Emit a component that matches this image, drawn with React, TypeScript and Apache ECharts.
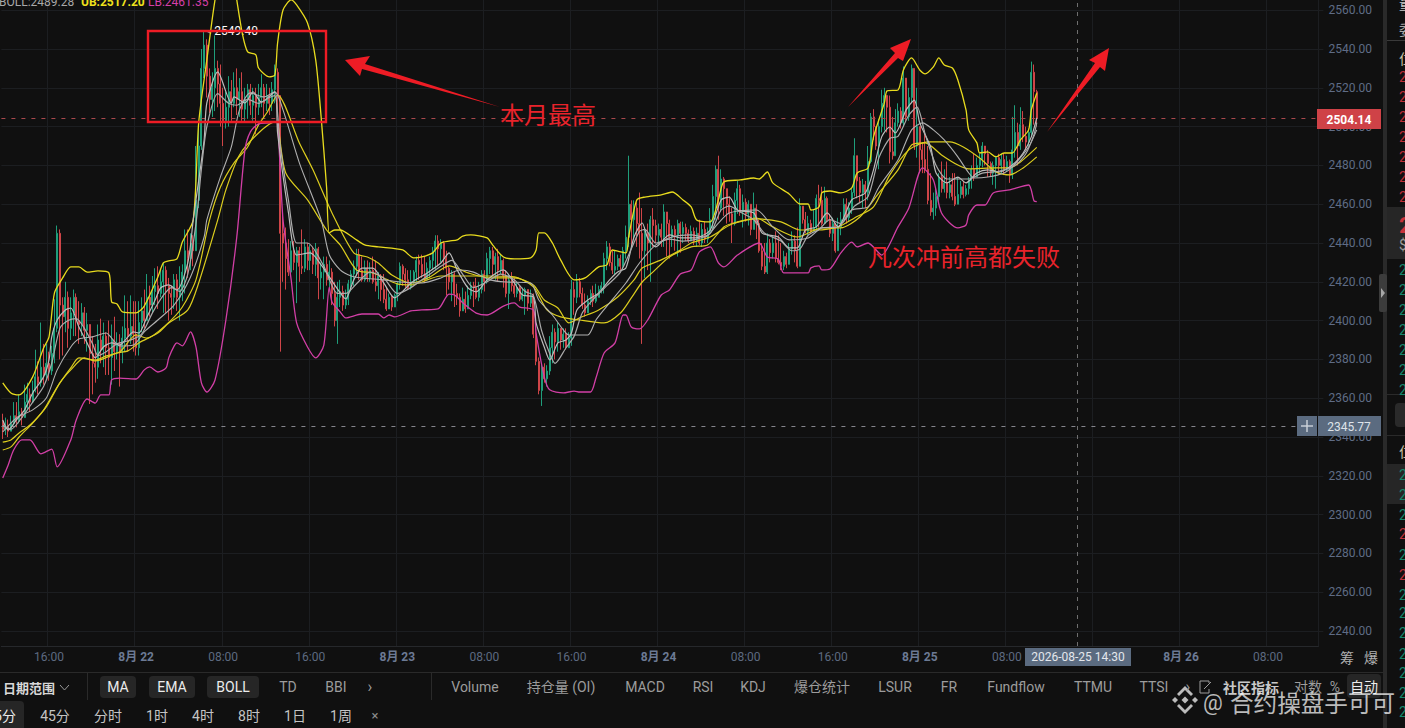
import React, { useEffect, useRef } from "react";
import * as echarts from "echarts";

// Each bar: close, high, low. A bar opens at the previous close.
const aug21Bars = [
  2344,2352,2339, 2346,2350,2341, 2343,2349,2340, 2347,2351,2343, 2351,2358,2346, 2348,2358,2345, 2353,2362,2347, 2350,2355,2346, 2358,2367,2351, 2362,2368,2354,
  2358,2365,2353, 2364,2369,2359, 2371,2385,2363, 2368,2379,2362, 2376,2399,2366, 2372,2388,2367, 2378,2388,2370, 2374,2384,2369, 2383,2387,2372, 2396,2411,2378,
  2445,2449,2394, 2408,2447,2380, 2402,2412,2382, 2412,2420,2394, 2396,2415,2386, 2404,2412,2390, 2412,2416,2392, 2400,2414,2392, 2398,2410,2388, 2404,2409,2392,
  2395,2407,2388, 2398,2404,2384, 2383,2396,2357, 2378,2392,2362, 2376,2388,2368, 2390,2398,2370, 2385,2401,2378, 2392,2399,2376, 2386,2394,2372, 2381,2400,2372,
  2390,2398,2367, 2384,2402,2374, 2388,2394,2380, 2384,2393,2366, 2391,2397,2378, 2396,2413,2384, 2392,2410,2384, 2397,2413,2388, 2393,2410,2384,
];
const aug22Bars = [
  2386,2410,2382, 2399,2410,2382, 2405,2412,2394, 2400,2416,2396, 2412,2424,2400, 2408,2418,2402, 2415,2423,2404, 2418,2427,2408, 2414,2428,2406, 2420,2426,2412,
  2426,2430,2404, 2418,2428,2404, 2414,2422,2400, 2412,2418,2403, 2421,2424,2406, 2412,2424,2405, 2416,2428,2400, 2425,2429,2410, 2436,2447,2414, 2432,2447,2422,
  2440,2445,2426, 2436,2444,2428, 2462,2490,2440, 2490,2502,2458, 2530,2540,2488, 2542,2549.4,2525, 2526,2545,2515, 2514,2530,2507, 2520,2528,2505, 2530,2547,2508,
  2522,2534,2510, 2512,2532,2500, 2503,2520,2490, 2510,2518,2499, 2518,2526,2500, 2512,2524,2503, 2520,2528,2510, 2514,2530,2506, 2518,2525,2505, 2509,2528,2503,
  2514,2520,2502, 2519,2522,2504, 2511,2522,2506, 2516,2520,2503, 2510,2520,2496, 2515,2522,2506, 2520,2527,2510, 2512,2522,2505, 2516,2522,2508, 2512,2520,2506,
  2519,2523,2508, 2528,2532,2512, 2516,2530,2505, 2445,2516,2384, 2440,2456,2420, 2432,2448,2416, 2425,2442,2423, 2436,2441,2424, 2430,2441,2426, 2436,2438,2409,
  2428,2438,2420, 2427,2447,2424, 2438,2442,2425, 2431,2440,2426, 2436,2439,2426, 2429,2438,2424, 2437,2440,2423, 2422,2438,2411, 2425,2430,2416, 2429,2433,2411,
  2421,2433,2418, 2425,2431,2415, 2414,2427,2408, 2400,2420,2397, 2412,2420,2388, 2415,2421,2407, 2408,2418,2405, 2411,2416,2406, 2419,2421,2408, 2424,2426,2415,
  2428,2431,2418, 2434,2437,2423, 2426,2437,2421, 2421,2433,2420, 2427,2431,2420, 2422,2431,2420, 2426,2430,2420, 2420,2433,2419, 2418,2431,2415, 2423,2425,2411,
  2416,2424,2410, 2411,2424,2409, 2406,2417,2405, 2412,2414,2406, 2407,2413,2405, 2413,2414,2408,
];
const aug23Bars = [
  2419,2420,2410, 2428,2430,2416, 2424,2429,2418, 2421,2427,2417, 2417,2426,2416, 2420,2426,2416, 2425,2426,2419, 2431,2433,2420, 2429,2434,2421, 2424,2434,2422,
  2421,2433,2420, 2427,2430,2421, 2431,2433,2422, 2436,2438,2426, 2441,2444,2426, 2437,2444,2428, 2440,2442,2430, 2432,2441,2426, 2427,2436,2413, 2420,2428,2416,
  2424,2426,2410, 2414,2425,2407, 2412,2419,2408, 2405,2414,2402, 2411,2417,2406, 2406,2415,2404, 2413,2418,2406, 2418,2420,2411, 2417,2420,2407, 2412,2422,2411,
  2416,2420,2410, 2424,2426,2414, 2420,2426,2415, 2432,2435,2419, 2436,2438,2424, 2429,2438,2423, 2433,2435,2421, 2426,2437,2420, 2431,2434,2424, 2423,2432,2417,
  2414,2426,2412, 2421,2424,2406, 2418,2425,2415, 2414,2422,2412, 2417,2420,2412, 2411,2418,2410, 2413,2417,2410, 2416,2417,2403, 2409,2416,2405, 2413,2416,2407,
  2393,2414,2391, 2379,2396,2377, 2364,2381,2362, 2376,2378,2356, 2370,2378,2368, 2374,2377,2366, 2386,2392,2372, 2394,2398,2378, 2389,2396,2380, 2396,2399,2384,
  2390,2396,2385, 2393,2396,2386, 2386,2396,2385, 2391,2394,2386, 2416,2421,2387, 2412,2420,2403, 2420,2424,2409, 2414,2422,2412, 2408,2417,2406, 2404,2414,2402,
  2410,2413,2404, 2414,2416,2408, 2410,2418,2407, 2412,2419,2409, 2416,2418,2412, 2418,2420,2414, 2432,2435,2414, 2438,2441,2426, 2430,2440,2428, 2426,2436,2424,
  2428,2436,2424, 2432,2434,2426, 2428,2434,2426, 2436,2438,2426, 2443,2449,2432, 2460,2485,2438, 2452,2462,2438, 2458,2462,2442, 2450,2461,2438, 2445,2466,2432,
  2436,2458,2388, 2445,2448,2422, 2440,2450,2426, 2452,2454,2420, 2449,2458,2438, 2444,2452,2440,
];
const aug24Bars = [
  2447,2450,2440, 2443,2450,2438, 2456,2460,2438, 2450,2456,2433, 2443,2452,2432, 2447,2449,2438, 2444,2449,2436, 2450,2452,2433, 2445,2451,2435, 2448,2451,2440,
  2445,2450,2441, 2441,2447,2440, 2446,2449,2441, 2441,2448,2439, 2445,2448,2438, 2440,2452,2439, 2447,2450,2438, 2442,2451,2440, 2446,2448,2440, 2452,2458,2445,
  2464,2470,2447, 2478,2480,2452, 2458,2485,2452, 2473,2478,2456, 2468,2474,2454, 2460,2465,2450, 2455,2464,2451, 2450,2458,2440, 2462,2466,2449, 2468,2472,2455,
  2456,2470,2454, 2461,2465,2448, 2455,2463,2451, 2460,2462,2449, 2447,2458,2444, 2458,2466,2450, 2450,2460,2442, 2436,2452,2435, 2428,2440,2426, 2425,2440,2424,
  2440,2445,2424, 2435,2442,2430, 2440,2444,2432, 2432,2446,2430, 2430,2444,2429, 2428,2440,2426, 2433,2436,2426, 2429,2435,2427, 2437,2440,2431, 2441,2446,2434,
  2436,2444,2430, 2428,2448,2427, 2459,2463,2440, 2452,2459,2450, 2446,2456,2445, 2450,2454,2444, 2446,2452,2445, 2448,2457,2446, 2463,2465,2447, 2462,2470,2448,
  2450,2469,2449, 2463,2469,2452, 2452,2464,2451, 2445,2455,2443, 2450,2453,2441, 2436,2450,2435, 2448,2453,2436, 2452,2456,2444, 2460,2463,2452, 2453,2463,2450,
  2458,2461,2451, 2466,2468,2455, 2485,2494,2464, 2472,2482,2463, 2466,2474,2461, 2470,2473,2458, 2466,2472,2458, 2482,2490,2462, 2505,2507,2481, 2500,2509,2493,
  2490,2500,2488, 2500,2504,2478, 2512,2519,2497, 2516,2520,2498, 2510,2516,2497, 2487,2516,2481, 2485,2505,2483, 2502,2509,2486, 2508,2512,2500, 2502,2510,2499,
  2525,2531,2500, 2505,2524,2503, 2515,2520,2503, 2530,2532,2512, 2490,2524,2488, 2500,2520,2484,
];
const aug25Bars = [
  2488,2500,2476, 2483,2492,2476, 2478,2498,2476, 2462,2490,2460, 2456,2476,2454, 2458,2466,2452, 2464,2468,2454, 2474,2476,2460, 2468,2482,2466, 2471,2478,2466,
  2466,2482,2463, 2470,2474,2463, 2464,2476,2462, 2460,2476,2459, 2465,2474,2462, 2469,2472,2463, 2465,2472,2463, 2468,2470,2464, 2472,2474,2465, 2478,2480,2468,
  2474,2486,2472, 2480,2484,2474, 2483,2486,2476, 2490,2492,2479, 2486,2490,2480, 2481,2488,2474, 2476,2482,2474, 2480,2482,2470, 2484,2485,2468, 2480,2486,2475,
  2483,2486,2476, 2478,2486,2475, 2482,2485,2477, 2475,2483,2471, 2488,2505,2473, 2497,2511,2484, 2490,2502,2480, 2501,2510,2488, 2495,2508,2492, 2492,2500,2488,
  2497,2499,2490, 2528,2533.5,2495, 2518,2532,2501, 2504.14,2519,2500,
];

// Indicator lines: [bar number, price]
const bollUpper = [[0,2367.9],[3,2362.7],[6,2361.7],[11,2371],[15,2385.9],[17,2391.6],[19,2414.3],[22,2422],[25,2427.7],[28,2427.7],[31,2425],[35,2425.6],[39,2424.6],[40,2409.6],[42,2408.6],[44,2404.5],[49,2404],[52,2407.5],[57,2422.5],[59,2429.7],[61,2430.8],[64,2431.8],[66,2440.5],[70,2451.9],[72,2501.9],[75,2534.4],[78,2565.3],[80,2578],[83,2585],[85,2575],[86,2565.3],[88,2548.3],[90,2538.5],[93,2537],[94,2530.2],[98,2525.6],[100,2526.6],[101,2543.1],[103,2560.1],[106,2565.3],[108,2562.7],[112,2553.4],[115,2534.4],[117,2505],[119,2468.9],[120,2445.2],[122,2446.7],[124,2446.7],[129,2442.6],[133,2439],[138,2438],[147,2436.4],[151,2432.3],[154,2432.8],[158,2434.9],[161,2440],[164,2441],[167,2441.6],[169,2443.6],[172,2444.2],[178,2442.6],[180,2439],[184,2432.8],[188,2431.8],[194,2432.3],[196,2436.4],[197,2445.2],[199,2445.2],[202,2440],[205,2431.3],[210,2421],[214,2422],[219,2427.7],[222,2428.7],[224,2436.4],[229,2434.9],[230,2443.1],[233,2462.2],[236,2463.7],[242,2464.8],[246,2466.3],[250,2462.2],[253,2458.6],[255,2451.9],[260,2450.9],[263,2462.2],[265,2471.5],[271,2472.5],[276,2473.5],[278,2473],[281,2476.6],[283,2471],[289,2465.3],[293,2460.1],[296,2460.1],[297,2457],[300,2458.6],[301,2465.8],[304,2466.8],[308,2465.8],[312,2468.4],[314,2476.1],[318,2478.7],[320,2494.7],[324,2512.2],[325,2518.4],[329,2518.9],[331,2529.2],[334,2535.4],[337,2529.2],[339,2527.2],[342,2530.8],[344,2535.4],[346,2531.8],[349,2530.2],[351,2524],[354,2508.6],[355,2498.3],[358,2491.6],[359,2486.4],[362,2487],[365,2484.4],[368,2486.4],[371,2486.4],[374,2493.1],[377,2498.3],[378,2508.6],[380,2517.2]];
const bollLower = [[0,2318.9],[2,2325.6],[4,2333.3],[7,2338.5],[10,2338.5],[14,2331.3],[18,2333.8],[20,2324.6],[25,2338.5],[27,2348.8],[31,2359.6],[34,2357.5],[36,2361.7],[39,2361.7],[40,2369.4],[43,2370.4],[49,2369.9],[52,2374.6],[54,2376.1],[57,2373.5],[60,2375.6],[61,2380.8],[63,2387],[64,2388.5],[66,2387],[69,2394.2],[71,2386.4],[73,2367.9],[75,2363.2],[78,2369.4],[82,2400.3],[86,2443.1],[89,2488],[91,2497.3],[94,2501.4],[98,2501.9],[100,2502.4],[101,2501.9],[103,2451.9],[106,2421],[108,2398.8],[112,2386.4],[115,2380.8],[118,2387.4],[120,2417.3],[121,2409.6],[124,2404.5],[126,2401.4],[132,2403.4],[138,2403.4],[140,2401.4],[142,2402.9],[144,2401.9],[150,2405],[154,2405.5],[160,2406],[164,2413.7],[166,2413.2],[170,2408],[174,2403.9],[178,2402.9],[184,2407.5],[188,2409.1],[190,2407],[195,2405.5],[196,2393.6],[199,2371],[201,2364.3],[206,2362.7],[210,2363.7],[212,2363.2],[216,2363.2],[218,2370.4],[221,2383.3],[225,2388.5],[228,2402.9],[229,2402.9],[231,2396.7],[234,2395.7],[237,2400.3],[242,2413.2],[245,2415.8],[249,2424],[253,2426.1],[256,2435.4],[260,2438],[263,2429.7],[265,2427.7],[270,2433.8],[278,2440],[281,2432.8],[285,2431.8],[287,2424.6],[296,2424.6],[297,2427.2],[300,2428.2],[301,2426.1],[304,2426.6],[308,2434.9],[312,2440.5],[314,2438],[318,2440],[323,2433.8],[329,2448.3],[333,2458.1],[338,2478.7],[342,2472.5],[345,2455.5],[351,2447.8],[354,2449.3],[355,2454.5],[358,2459.6],[361,2459.6],[364,2465.8],[370,2467.4],[377,2469.9],[379,2461.7],[380,2461.35]];
const bollMid = [[0,2333.3],[3,2334.9],[6,2340],[11,2347.2],[16,2355.5],[21,2367.9],[25,2374.6],[30,2380.8],[34,2379.2],[42,2383.3],[46,2384.4],[50,2388.5],[57,2393.6],[61,2398.8],[68,2405.5],[72,2419.4],[79,2451.9],[82,2467.4],[87,2485.4],[94,2496.7],[100,2502.4],[101,2501.9],[104,2476.1],[112,2462.2],[119,2446.7],[124,2439],[130,2426.1],[136,2424.6],[140,2422],[145,2418.9],[150,2418.4],[161,2423],[171,2423],[178,2423],[188,2422.5],[195,2417.4],[200,2405.5],[205,2401.9],[212,2400.3],[221,2398.8],[227,2403.9],[231,2411.7],[235,2419.9],[239,2425.1],[245,2432.8],[253,2438],[259,2439],[265,2448.3],[270,2450.9],[277,2452.9],[283,2448.3],[292,2443.1],[301,2447.8],[308,2447.8],[315,2453.4],[322,2465.8],[329,2477.7],[334,2490.5],[339,2491.6],[345,2485.4],[351,2480.2],[355,2478.2],[365,2478.7],[370,2478.7],[374,2481.8],[380,2489.28]];
const emaYellow = [[0,2337.4],[3,2338.5],[6,2342.1],[10,2346.2],[15,2353.9],[20,2365.8],[25,2375.6],[28,2380.8],[34,2379.7],[38,2381.8],[43,2383.9],[49,2392.6],[53,2391],[60,2397.8],[66,2407],[71,2421],[76,2451.9],[80,2468.9],[85,2481.3],[90,2489.5],[94,2500.9],[97,2507],[101,2516.3],[109,2491.6],[114,2477.7],[121,2455.5],[129,2434.9],[134,2432.8],[138,2429.7],[143,2423.5],[150,2419.4],[157,2422.5],[164,2428.2],[171,2424.6],[179,2422],[188,2422],[195,2418.4],[199,2410.6],[204,2406.5],[208,2398.8],[212,2401.4],[219,2405.5],[226,2412.2],[232,2421],[235,2427.1],[242,2431.3],[249,2436.4],[253,2440],[260,2443.1],[268,2449.8],[277,2452.4],[286,2450.9],[293,2446.7],[299,2446.7],[307,2448.3],[313,2452.9],[320,2458.6],[326,2475.1],[333,2488],[340,2492.1],[348,2492.1],[353,2489.5],[359,2483.8],[365,2476.6],[370,2475.1],[375,2478.7],[380,2484.4]];
const maSlow = [[0,2342.6],[5,2349.8],[11,2354],[16,2360.1],[20,2374.6],[25,2386.4],[28,2390.5],[33,2391.6],[38,2393.6],[40,2391],[43,2386.9],[48,2387.4],[52,2394.2],[57,2400.3],[63,2408.1],[69,2422.5],[74,2443.1],[75,2451.9],[80,2474.1],[84,2489.5],[87,2508.6],[91,2517.4],[96,2515.3],[100,2517.9],[103,2508.6],[109,2481.3],[117,2451.9],[120,2433.8],[124,2426.1],[128,2423],[132,2422],[140,2421],[146,2419.9],[154,2419.4],[161,2422],[168,2426.1],[173,2425],[179,2421],[185,2419.9],[194,2419.4],[197,2410.6],[202,2402.9],[206,2395.2],[208,2392.6],[215,2392.6],[218,2400.3],[223,2409.1],[229,2419.4],[234,2429.7],[240,2439],[246,2443.1],[253,2444.2],[258,2443.1],[263,2450.3],[267,2455.5],[277,2457],[283,2448.3],[289,2441.6],[296,2442.6],[301,2447.8],[307,2448.3],[312,2457],[318,2458.6],[322,2468.9],[329,2482.8],[334,2498.3],[338,2501.9],[342,2498.3],[346,2493.1],[351,2484.4],[355,2476.1],[357,2473.5],[362,2474],[368,2476.1],[371,2479.2],[377,2489.5],[380,2498.3]];
const maFast = [[0,2348.8],[2,2343.6],[5,2348.8],[8,2353.9],[11,2362.7],[15,2371],[17,2379.7],[18,2391.6],[20,2400.3],[23,2405.5],[25,2406.5],[28,2396.7],[31,2388.5],[34,2380.8],[37,2386.4],[40,2388.5],[43,2387.4],[46,2391.6],[48,2394.2],[50,2393.6],[53,2401.9],[56,2410.6],[58,2416.8],[61,2418.4],[64,2415.8],[68,2429.7],[70,2451.9],[71,2462.2],[74,2493.1],[75,2512.2],[79,2528.2],[84,2512.2],[85,2515.3],[89,2512.2],[92,2517.9],[95,2512.7],[100,2517.9],[101,2496.7],[105,2455.5],[108,2433.8],[113,2434.9],[117,2428.7],[120,2422.5],[124,2414.3],[126,2411.2],[129,2421],[132,2427.1],[136,2427.1],[140,2419.4],[144,2411.7],[150,2419.4],[156,2424.6],[161,2429.7],[164,2434.9],[167,2426.1],[171,2416.8],[174,2414.8],[178,2421],[184,2426.1],[188,2419.4],[191,2413.2],[195,2412.2],[196,2398.8],[199,2386.4],[201,2379.7],[204,2388.5],[207,2390],[209,2393.6],[211,2405.5],[215,2410.6],[219,2414.2],[223,2421],[226,2425.1],[229,2427.1],[232,2443.1],[235,2450.3],[237,2442.6],[240,2438],[245,2444.2],[249,2442.6],[253,2442.6],[256,2443.1],[260,2446.7],[264,2462.2],[267,2463.7],[270,2457],[276,2455.5],[279,2445.2],[285,2443.1],[289,2437.5],[292,2437.5],[295,2446.7],[299,2448.3],[303,2455.5],[307,2448.3],[312,2462.2],[317,2465.8],[320,2477.7],[323,2494.7],[326,2499.8],[328,2496.7],[332,2508.6],[335,2513.7],[337,2501.9],[341,2489.5],[343,2476.1],[347,2471],[351,2474],[354,2471],[358,2476.1],[362,2477.7],[366,2476.6],[371,2480.2],[375,2486.4],[378,2494.7],[380,2504.5]];
const emaFast = [[0,2346],[3,2344],[7,2350],[11,2358],[15,2366],[18,2378],[21,2396],[24,2400],[27,2401],[30,2396],[33,2388],[35,2382],[38,2384],[42,2388],[47,2390],[51,2393],[55,2404],[59,2413],[62,2417],[65,2415],[68,2424],[71,2450],[73,2478],[75,2500],[79,2517],[83,2512],[86,2511],[90,2514],[94,2512],[98,2515],[100,2516],[102,2490],[105,2462],[108,2440],[112,2440],[118,2428],[123,2414],[126,2414],[130,2419],[135,2425],[140,2422],[145,2414],[150,2417],[156,2423],[161,2428],[165,2431],[169,2424],[173,2417],[178,2420],[183,2424],[188,2421],[192,2415],[195,2413],[198,2395],[201,2383],[203,2378],[207,2386],[210,2392],[213,2404],[217,2411],[222,2418],[227,2425],[231,2437],[234,2446],[236,2447],[240,2440],[245,2442],[250,2441],[255,2442],[260,2445],[264,2457],[267,2459],[271,2456],[276,2452],[280,2445],[286,2441],[290,2436],[293,2437],[296,2444],[300,2447],[304,2452],[308,2450],[313,2459],[318,2464],[322,2484],[326,2494],[329,2495],[333,2506],[336,2510],[339,2496],[343,2480],[347,2473],[351,2473],[355,2473],[360,2476],[366,2477],[372,2480],[376,2486],[379,2496],[380,2502]];

const priceTicks = [2240,2260,2280,2300,2320,2340,2360,2380,2400,2420,2440,2460,2480,2500,2520,2540,2560];
const lastPrice = 2504.14;
const crossPrice = 2345.77;
const highPrice = 2549.4;
const highBar = 73;
const crossBar = 395;
const hiddenLabelBar = 401;
const categoryCount = 484;

const toolbarMuted = ["TD|288","BBI|336","Volume|475","持仓量 (OI)|561","MACD|645","RSI|703","KDJ|753","爆仓统计|822","LSUR|895","FR|949","Fundflow|1016","TTMU|1093","TTSI|1154","对数|1308","%|1335"];
const toolbarActive = ["MA|118","EMA|172","BOLL|233","自动|1364"];
const intervalTabs = ["45分|55","分时|108","1时|157","4时|203","8时|249","1日|295","1周|341"];
const bookRows: [number, string][] = [[77,"r"],[97,"r"],[117,"r"],[137,"r"],[157,"r"],[177,"r"],[197,"r"],[270,"g"],[290,"g"],[310,"g"],[330,"g"],[350,"g"],[370,"g"],[390,"g"],[475,"g"],[495,"g"],[515,"g"],[534,"r"],[555,"g"],[575,"r"],[595,"g"],[613,"g"],[633,"g"],[654,"g"],[673,"g"],[693,"g"],[712,"g"]];

const UI_FONT = "Roboto, 'Noto Sans CJK SC', sans-serif";
const CJK_FONT = "'Noto Sans CJK SC', sans-serif";

const allBars = [...aug21Bars, ...aug22Bars, ...aug23Bars, ...aug24Bars, ...aug25Bars];

function buildCandles() {
  const out: number[][] = [];
  let prev = 2348;
  for (let i = 0; i + 2 < allBars.length; i += 3) {
    const c = allBars[i], h = allBars[i + 1], l = allBars[i + 2];
    out.push([prev, c, Math.min(l, prev, c), Math.max(h, prev, c)]);
    prev = c;
  }
  return out;
}

function buildCategories() {
  const start = Date.UTC(2026, 7, 21, 11, 45);
  const out: string[] = [];
  for (let i = 0; i < categoryCount; i++) {
    const d = new Date(start + i * 15 * 60000);
    const hh = String(d.getUTCHours()).padStart(2, "0");
    const mm = String(d.getUTCMinutes()).padStart(2, "0");
    out.push(`${d.getUTCMonth() + 1}月${d.getUTCDate()}|${hh}:${mm}`);
  }
  return out;
}

const isTick = (v: string) => {
  const t = v.split("|")[1];
  return t === "00:00" || t === "08:00" || t === "16:00";
};

function txt(text: string, x: number, y: number, fill: string, fontSize = 14, extra: any = {}, align = "center") {
  return {
    type: "text", z: 110, silent: true,
    style: { text, x, y, fill, fontSize, fontFamily: UI_FONT, align, verticalAlign: "middle", textAlign: align, textVerticalAlign: "middle", ...extra },
  };
}
function box(x: number, y: number, width: number, height: number, fill: string, r = 0, z = 100) {
  return { type: "rect", z, silent: true, shape: { x, y, width, height, r }, style: { fill } };
}
function poly(points: number[][], fill: string) {
  return { type: "polygon", z: 105, silent: true, shape: { points }, style: { fill } };
}
function seg(x1: number, y1: number, x2: number, y2: number, stroke: string, lineWidth = 1) {
  return { type: "line", z: 102, silent: true, shape: { x1, y1, x2, y2 }, style: { stroke, lineWidth } };
}

function buildGraphics() {
  const g: any[] = [];
  const divider = "#2a2a2a";
  // lower toolbar
  g.push(seg(0, 672.5, 1383, 672.5, divider));
  g.push(seg(87.5, 672, 87.5, 700, divider), seg(431.5, 672, 431.5, 700, divider));
  g.push(box(100, 676, 36, 22, "#262626", 4), box(149, 676, 46, 22, "#262626", 4), box(207, 676, 52, 22, "#262626", 4), box(1347, 674, 34, 24, "#262626", 4));
  g.push(txt("日期范围", 29, 687, "#d8d8d8", 13, { fontWeight: "bold", fontFamily: CJK_FONT }));
  g.push({ type: "polyline", z: 110, silent: true, shape: { points: [[60, 685], [64.5, 690], [69, 685]] }, style: { stroke: "#999", lineWidth: 1, fill: "none" } });
  toolbarMuted.forEach((s) => { const [t, x] = s.split("|"); g.push(txt(t, +x, 687, "#9c9c9c")); });
  toolbarActive.forEach((s) => { const [t, x] = s.split("|"); g.push(txt(t, +x, 687, "#ececec")); });
  g.push(txt("›", 370, 686, "#9c9c9c", 16), txt("›", 1188, 686, "#9c9c9c", 16));
  g.push({ type: "polyline", z: 110, silent: true, shape: { points: [[1209, 683], [1209, 681], [1200, 681], [1200, 693], [1209, 693], [1209, 689]] }, style: { stroke: "#9c9c9c", lineWidth: 1, fill: "none" } });
  g.push(seg(1204, 689, 1211, 682, "#9c9c9c"));
  g.push(txt("社区指标", 1251, 687, "#c8c8c8", 14, { fontWeight: "bold", fontFamily: CJK_FONT }));
  // interval tabs
  g.push(box(-6, 701, 30, 30, "#262626", 4));
  g.push(txt("15分", 16, 716, "#ececec", 14, {}, "right"));
  intervalTabs.forEach((s) => { const [t, x] = s.split("|"); g.push(txt(t, +x, 716, "#c4c4c4")); });
  g.push(txt("×", 375, 715, "#8c8c8c", 13));
  // crosshair tags and price boxes
  g.push(box(1025, 648, 106, 18, "#5b6b80"), txt("2026-08-25 14:30", 1078, 657, "#e4e7ec", 12));
  g.push(box(1317, 109, 64, 20, "#cf4247"), txt("2504.14", 1349, 119.5, "#ffffff", 12, { fontWeight: "bold" }));
  g.push(box(1318, 416, 63, 20, "#5b6b80"), txt("2345.77", 1349, 426.5, "#dfe3e9", 12));
  g.push(box(1297, 416, 20, 20, "#5b6b80"), seg(1301, 426, 1313, 426, "#cfd4db", 1.4), seg(1307, 420, 1307, 432, "#cfd4db", 1.4));
  g.push(txt("筹", 1347, 657, "#b0b0b0", 14, { fontFamily: CJK_FONT }), txt("爆", 1371, 657, "#b0b0b0", 14, { fontFamily: CJK_FONT }));
  // side pane
  g.push(box(1383, 0, 4, 728, "#2a2a2a"));
  g.push(box(1379, 274, 8, 38, "#3c3c3c", 2));
  g.push(poly([[1381, 288], [1385, 293], [1381, 298]], "#a8a8a8"));
  g.push(box(1387, 207, 18, 52, "#262626"), box(1387, 464, 18, 40, "#262626"), box(1395, 403, 12, 24, "#2a2a2a", 4));
  g.push(seg(1387, 40.5, 1405, 40.5, "#3a3a3a"), seg(1387, 394.5, 1405, 394.5, "#2a2a2a"), seg(1387, 435.5, 1405, 435.5, "#2a2a2a"));
  g.push(txt("量", 1399, 3, "#c9c9c9", 14, { fontFamily: CJK_FONT }, "left"), txt("委", 1399, 29, "#a8a8a8", 14, { fontFamily: CJK_FONT }, "left"), txt("位", 1399, 58, "#c9c0a8", 14, { fontFamily: CJK_FONT }, "left"), txt("位", 1399, 451, "#c9c0a8", 14, { fontFamily: CJK_FONT }, "left"));
  bookRows.forEach(([y, c]) => g.push(txt("2", 1399, y, c === "r" ? "#bb2f38" : "#14866a", 14, {}, "left")));
  g.push(txt("2", 1399, 225, "#c9323b", 22, { fontWeight: "bold" }, "left"), txt("$", 1399, 245, "#9c9c9c", 14, {}, "left"));
  // legend line at the very top
  g.push(txt("BOLL:2489.28", -1, 2, "#a8a8a8", 12, {}, "left"));
  g.push(txt("UB:2517.20", 81, 2, "#efe11c", 12, { fontWeight: "bold" }, "left"));
  g.push(txt("LB:2461.35", 148, 2, "#d63fa8", 12, {}, "left"));
  // annotations
  const red = "#ee1c25";
  g.push({ type: "rect", z: 105, silent: true, shape: { x: 148, y: 31, width: 178, height: 91 }, style: { fill: "none", stroke: red, lineWidth: 2.4 } });
  g.push(poly([[345, 60], [370, 56], [365, 64], [500, 107], [362, 69], [360, 76]], red));
  g.push(poly([[911, 39], [890, 48], [895, 53], [848, 107], [898, 58], [903, 61]], red));
  g.push(poly([[1109, 48], [1089, 60], [1095, 63], [1047, 132], [1100, 67], [1105, 71]], red));
  g.push(txt("本月最高", 500, 113, "#e8232b", 24, { fontFamily: CJK_FONT }, "left"));
  g.push(txt("凡次冲前高都失败", 868, 255, "#e8232b", 24, { fontFamily: CJK_FONT }, "left"));
  // watermark
  const wm = "rgba(255,255,255,0.72)";
  const cx = 1185, cy = 700;
  const dia = (dx: number, dy: number, r: number) => poly([[cx + dx, cy + dy - r], [cx + dx + r, cy + dy], [cx + dx, cy + dy + r], [cx + dx - r, cy + dy]], wm);
  g.push(dia(0, 0, 3.5), dia(-10, 0, 3), dia(10, 0, 3));
  g.push(poly([[cx, cy - 14], [cx + 8, cy - 6], [cx + 6, cy - 4], [cx, cy - 10], [cx - 6, cy - 4], [cx - 8, cy - 6]], wm));
  g.push(poly([[cx, cy + 14], [cx + 8, cy + 6], [cx + 6, cy + 4], [cx, cy + 10], [cx - 6, cy + 4], [cx - 8, cy + 6]], wm));
  g.push(txt("@", 1213, 702, wm, 22));
  g.push(txt("合约操盘手可可", 1230, 702, wm, 23.6, { fontFamily: CJK_FONT }, "left"));
  return g;
}

export default function App() {
  const ref = useRef<HTMLDivElement>(null);
  useEffect(() => {
    document.body.style.margin = "0";
    document.body.style.background = "#101010";
    document.body.style.overflow = "hidden";
    const chart = echarts.init(ref.current!, null, { renderer: "svg", width: 1405, height: 728 });
    const categories = buildCategories();
    const lineSeries = (name: string, data: number[][], color: string, width: number, z: number) => ({
      name, type: "line", data, showSymbol: false, symbol: "none", smooth: 0.25, z, silent: true,
      lineStyle: { color, width },
    });
    chart.setOption({
      animation: false,
      backgroundColor: "#101010",
      grid: { left: 1.4, right: 86.6, top: 0, bottom: 82 },
      xAxis: {
        type: "category",
        data: categories,
        boundaryGap: true,
        axisLine: { lineStyle: { color: "#26282b" } },
        axisTick: { show: false },
        splitLine: { show: true, interval: (_: number, v: string) => isTick(v), lineStyle: { color: "#1c1e21" } },
        axisLabel: {
          interval: (i: number, v: string) => isTick(v) && i !== hiddenLabelBar,
          margin: 5,
          fontSize: 12,
          fontFamily: UI_FONT,
          color: "#5d6a80",
          formatter: (v: string) => {
            const [day, t] = v.split("|");
            return t === "00:00" ? `{d|${day.replace("月", "月 ")}}` : t;
          },
          rich: { d: { fontWeight: "bold", fontSize: 12, color: "#6c7a94", fontFamily: UI_FONT } },
        },
      },
      yAxis: {
        type: "value",
        position: "right",
        min: 2232.27,
        max: 2565.26,
        scale: true,
        axisLine: { show: true, lineStyle: { color: "#1c1e21" } },
        axisTick: { show: true, length: 5, lineStyle: { color: "#1c1e21" }, customValues: priceTicks },
        splitLine: { show: true, lineStyle: { color: "#1c1e21" } },
        axisLabel: {
          customValues: priceTicks,
          margin: 10,
          fontSize: 12,
          fontFamily: UI_FONT,
          color: "#5f6c85",
          formatter: (v: number) => v.toFixed(2),
        },
      },
      graphic: { elements: buildGraphics() },
      series: [
        {
          name: "Candles",
          type: "candlestick",
          data: buildCandles(),
          barWidth: 1.5,
          z: 2,
          silent: true,
          itemStyle: { color: "#1f9e7b", color0: "#cf4548", borderColor: "#1f9e7b", borderColor0: "#cf4548", borderWidth: 1 },
          markLine: {
            silent: true,
            symbol: "none",
            animation: false,
            label: { show: false },
            data: [
              { yAxis: lastPrice, lineStyle: { color: "#a8484c", type: [4, 6], width: 1 } },
              { yAxis: crossPrice, lineStyle: { color: "#85858c", type: [4, 6], width: 1 } },
              { xAxis: categories[crossBar], lineStyle: { color: "#6f6f6f", type: [4, 5], width: 1 } },
            ],
          },
          markPoint: {
            silent: true,
            symbol: "circle",
            symbolSize: 0.1,
            data: [{ coord: [categories[highBar], highPrice] }],
            label: {
              show: true,
              position: "right",
              distance: 5,
              formatter: () => `{a|◂} {b|${highPrice.toFixed(2)}}`,
              rich: {
                a: { color: "#9a9a9a", fontSize: 9, fontFamily: "'DejaVu Sans'" },
                b: { color: "#ffffff", fontSize: 12, fontFamily: UI_FONT },
              },
            },
          },
        },
        lineSeries("UB", bollUpper, "#e9dc1e", 1.3, 6),
        lineSeries("LB", bollLower, "#d23fa6", 1.3, 6),
        lineSeries("BOLL", bollMid, "#dccd1e", 1.2, 5),
        lineSeries("EMA slow", emaYellow, "#dccd1e", 1.2, 5),
        lineSeries("MA slow", maSlow, "#b0b0b0", 1.1, 7),
        lineSeries("MA fast", maFast, "#bdbdbd", 1.2, 8),
        lineSeries("EMA fast", emaFast, "#ababab", 1.2, 8),
      ],
    });
    return () => chart.dispose();
  }, []);
  return <div ref={ref} style={{ position: "absolute", left: 0, top: 0, width: 1405, height: 728 }} />;
}
